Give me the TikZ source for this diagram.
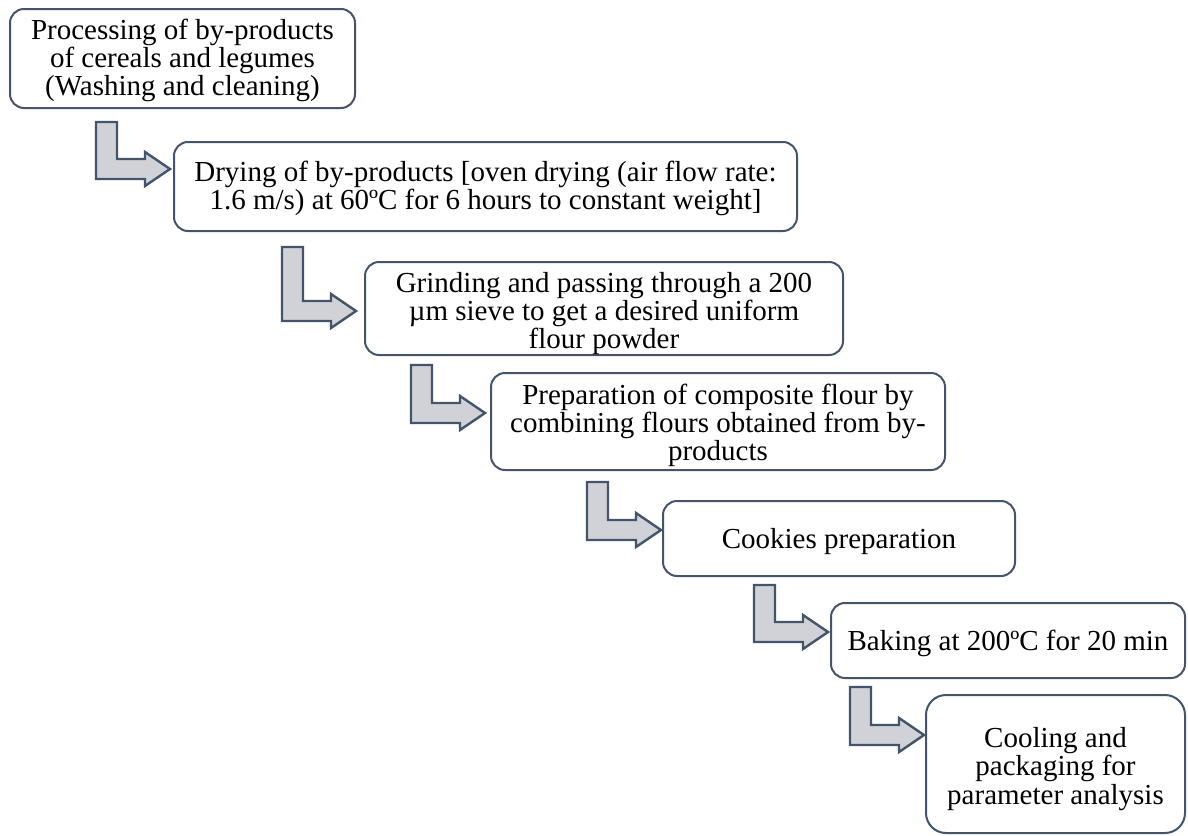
\documentclass[tikz,border=0pt]{standalone}
\usepackage{fontspec}
\setmainfont{Liberation Serif}
\definecolor{edge}{HTML}{44546A}
\definecolor{arrfill}{HTML}{D0D2D7}
\tikzset{
  stepbox/.style={draw=edge, line width=2pt, rounded corners=14pt, inner sep=0pt},
  boxtext/.style={align=center, inner sep=0pt, font=\fontsize{29}{28.3}\selectfont, text=black},
  blockarrow/.style={draw=edge, fill=arrfill, line width=2.4pt, line join=miter}
}
% #1 tip x, #2 tip y, #3 top y of stem
\newcommand\bentarrow[3]{%
  \draw[blockarrow] (#1-74,#3) -- (#1-53,#3) -- (#1-53,#2-10) -- (#1-25,#2-10)
    -- (#1-25,#2-17) -- (#1,#2) -- (#1-25,#2+17) -- (#1-25,#2+10)
    -- (#1-74,#2+10) -- cycle;}
\begin{document}
\begin{tikzpicture}[x=1pt,y=-1pt]
\fill[white] (0,0) rectangle (1188,835);
\useasboundingbox (0,0) rectangle (1188,835);

\node[stepbox, minimum width=345pt, minimum height=99pt] (b1) at (182.5,58.5) {};
\node[boxtext] (t1) at ([yshift=-2pt]b1.center)
  {Processing of by-products\\of cereals and legumes\\(Washing and cleaning)};
\node[stepbox, minimum width=623pt, minimum height=89pt] (b2) at (485.5,186.5) {};
\node[boxtext] (t2) at ([yshift=-2pt]b2.center)
  {Drying of by-products [oven drying (air flow rate:\\1.6 m/s) at 60ºC for 6 hours to constant weight]};
\node[stepbox, minimum width=478pt, minimum height=93pt] (b3) at (604,308.5) {};
\node[boxtext] (t3) at ([yshift=-5pt]b3.center)
  {Grinding and passing through a 200\\µm sieve to get a desired uniform\\flour powder};
\node[stepbox, minimum width=454pt, minimum height=97pt] (b4) at (718,421.5) {};
\node[boxtext] (t4) at ([yshift=-4pt]b4.center)
  {Preparation of composite flour by\\combining flours obtained from by-\\products};
\node[stepbox, minimum width=352pt, minimum height=75pt] (b5) at (839,538.5) {};
\node[boxtext] (t5) at ([yshift=-3pt]b5.center) {Cookies preparation};
\node[stepbox, minimum width=354pt, minimum height=75pt] (b6) at (1008,640.5) {};
\node[boxtext] (t6) at ([yshift=-3pt]b6.center) {Baking at 200ºC for 20 min};
\node[stepbox, rounded corners=20pt, minimum width=259pt, minimum height=138pt] (b7) at (1055.5,764) {};
\node[boxtext] (t7) at ([yshift=-5pt]b7.center)
  {Cooling and\\packaging for\\parameter analysis};

\bentarrow{170}{169}{122}
\bentarrow{356}{311}{247}
\bentarrow{485}{413}{365}
\bentarrow{661}{530}{482}
\bentarrow{828}{632}{585}
\bentarrow{924}{735}{687}
\end{tikzpicture}
\end{document}
